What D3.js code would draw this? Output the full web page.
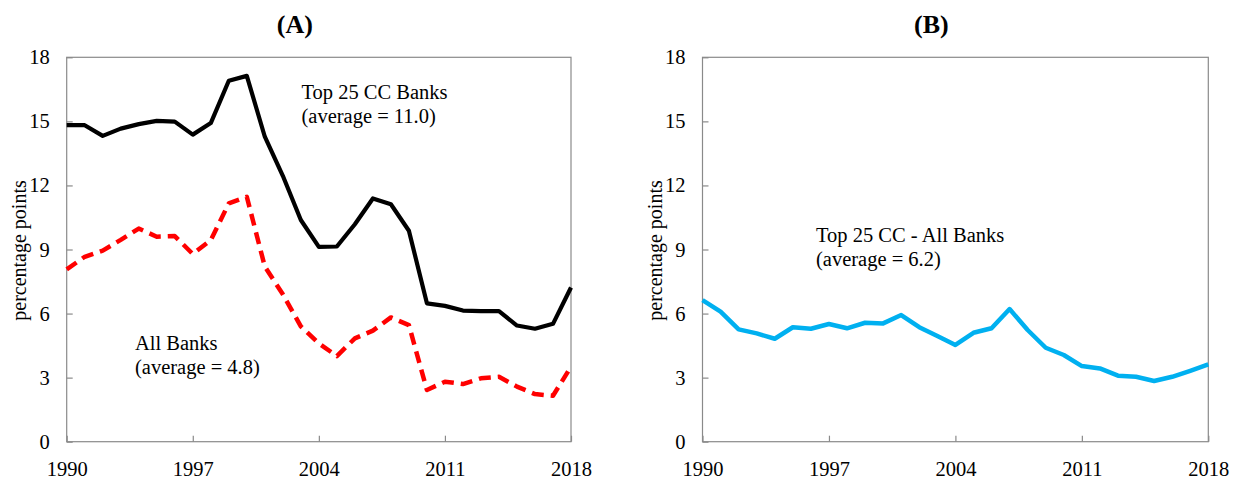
<!DOCTYPE html>
<html>
<head>
<meta charset="utf-8">
<script src="https://cdn.jsdelivr.net/npm/d3@7"></script>
<style>
  html, body { margin: 0; padding: 0; background: #fff; }
  svg { display: block; }
  text { font-family: "Liberation Serif", "Times New Roman", serif; fill: #000; }
</style>
</head>
<body>
<svg id="chart" width="1237" height="479"></svg>
<script>
const years = d3.range(1990, 2019);
const top25 = [14.82, 14.82, 14.32, 14.66, 14.87, 15.02, 14.99, 14.38, 14.92, 16.9, 17.13,
               14.28, 12.45, 10.38, 9.12, 9.14, 10.18, 11.39, 11.12, 9.88, 6.48, 6.36,
               6.14, 6.11, 6.11, 5.44, 5.29, 5.52, 7.22];
const allBanks = [8.07, 8.66, 8.95, 9.45, 9.98, 9.6, 9.63, 8.79, 9.44, 11.16, 11.47,
                  8.2, 6.9, 5.4, 4.6, 4.01, 4.84, 5.2, 5.82, 5.46, 2.42, 2.81,
                  2.7, 2.97, 3.04, 2.58, 2.23, 2.15, 3.51];
const diff = [6.63, 6.09, 5.26, 5.07, 4.82, 5.36, 5.29, 5.51, 5.31, 5.57, 5.54,
              5.93, 5.36, 4.95, 4.53, 5.1, 5.31, 6.21, 5.23, 4.4, 4.06, 3.54,
              3.43, 3.09, 3.04, 2.84, 3.04, 3.32, 3.62];
const xTicks = [1990, 1997, 2004, 2011, 2018];
const yTicks = [0, 3, 6, 9, 12, 15, 18];
const titles = ["(A)", "(B)"];
const yLabel = "percentage points";

const svg = d3.select("#chart");
const plotTop = 57.3, plotBottom = 441.7;
const panels = [
  { left: 66.7, right: 571, title: titles[0],
    series: [
      { values: top25, color: "#000", width: 4.2, dash: null },
      { values: allBanks, color: "#ff0000", width: 4.5, dash: "12,7" }
    ],
    notes: [
      { x: 301.5, y: 99, lines: ["Top 25 CC Banks", "(average = 11.0)"] },
      { x: 135, y: 350, lines: ["All Banks", "(average = 4.8)"] }
    ]
  },
  { left: 702.5, right: 1208.3, title: titles[1],
    series: [
      { values: diff, color: "#00b0f0", width: 4.5, dash: null }
    ],
    notes: [
      { x: 816, y: 241.5, lines: ["Top 25 CC - All Banks", "(average = 6.2)"] }
    ]
  }
];

const axisColor = "#8a8a8a";

panels.forEach(p => {
  const x = d3.scaleLinear().domain([1990, 2018]).range([p.left, p.right]);
  const y = d3.scaleLinear().domain([0, 18]).range([plotBottom, plotTop]);
  const g = svg.append("g");

  g.append("rect")
    .attr("x", p.left).attr("y", plotTop)
    .attr("width", p.right - p.left).attr("height", plotBottom - plotTop)
    .attr("fill", "none").attr("stroke", axisColor).attr("stroke-width", 1.2);

  const yAxis = g.append("g").attr("transform", `translate(${p.left},0)`)
    .call(d3.axisLeft(y).tickValues(yTicks).tickSizeInner(-6).tickSizeOuter(0).tickPadding(17));
  yAxis.select(".domain").remove();
  yAxis.selectAll(".tick line").attr("stroke", axisColor).attr("stroke-width", 1.2);
  yAxis.selectAll(".tick text")
    .style("font-family", '"Liberation Serif", serif').style("font-size", "20.5px").attr("fill", "#000");

  const xAxis = g.append("g").attr("transform", `translate(0,${plotBottom})`)
    .call(d3.axisBottom(x).tickValues(xTicks).tickFormat(d3.format("d"))
      .tickSizeInner(-6).tickSizeOuter(0).tickPadding(20));
  xAxis.select(".domain").remove();
  xAxis.selectAll(".tick line").attr("stroke", axisColor).attr("stroke-width", 1.2);
  xAxis.selectAll(".tick text")
    .style("font-family", '"Liberation Serif", serif').style("font-size", "20.5px").attr("fill", "#000");

  g.append("text")
    .attr("transform", `translate(${p.left - 41},${(plotTop + plotBottom) / 2 + 1}) rotate(-90)`)
    .attr("text-anchor", "middle")
    .style("font-size", "20px")
    .text(yLabel);

  g.append("text")
    .attr("x", (p.left + p.right) / 2 - 24)
    .attr("y", 33)
    .attr("text-anchor", "middle")
    .style("font-size", "26px").style("font-weight", "bold")
    .text(p.title);

  const line = d3.line().x((d, i) => x(years[i])).y(d => y(d));
  p.series.forEach(s => {
    g.append("path")
      .datum(s.values)
      .attr("d", line)
      .attr("fill", "none")
      .attr("stroke", s.color)
      .attr("stroke-width", s.width)
      .attr("stroke-linejoin", "round")
      .attr("stroke-dasharray", s.dash);
  });

  p.notes.forEach(n => {
    const t = g.append("text").attr("x", n.x).attr("y", n.y).style("font-size", "20.5px");
    n.lines.forEach((ln, i) => {
      t.append("tspan").attr("x", n.x).attr("dy", i === 0 ? 0 : 24).text(ln);
    });
  });
});
</script>
</body>
</html>
